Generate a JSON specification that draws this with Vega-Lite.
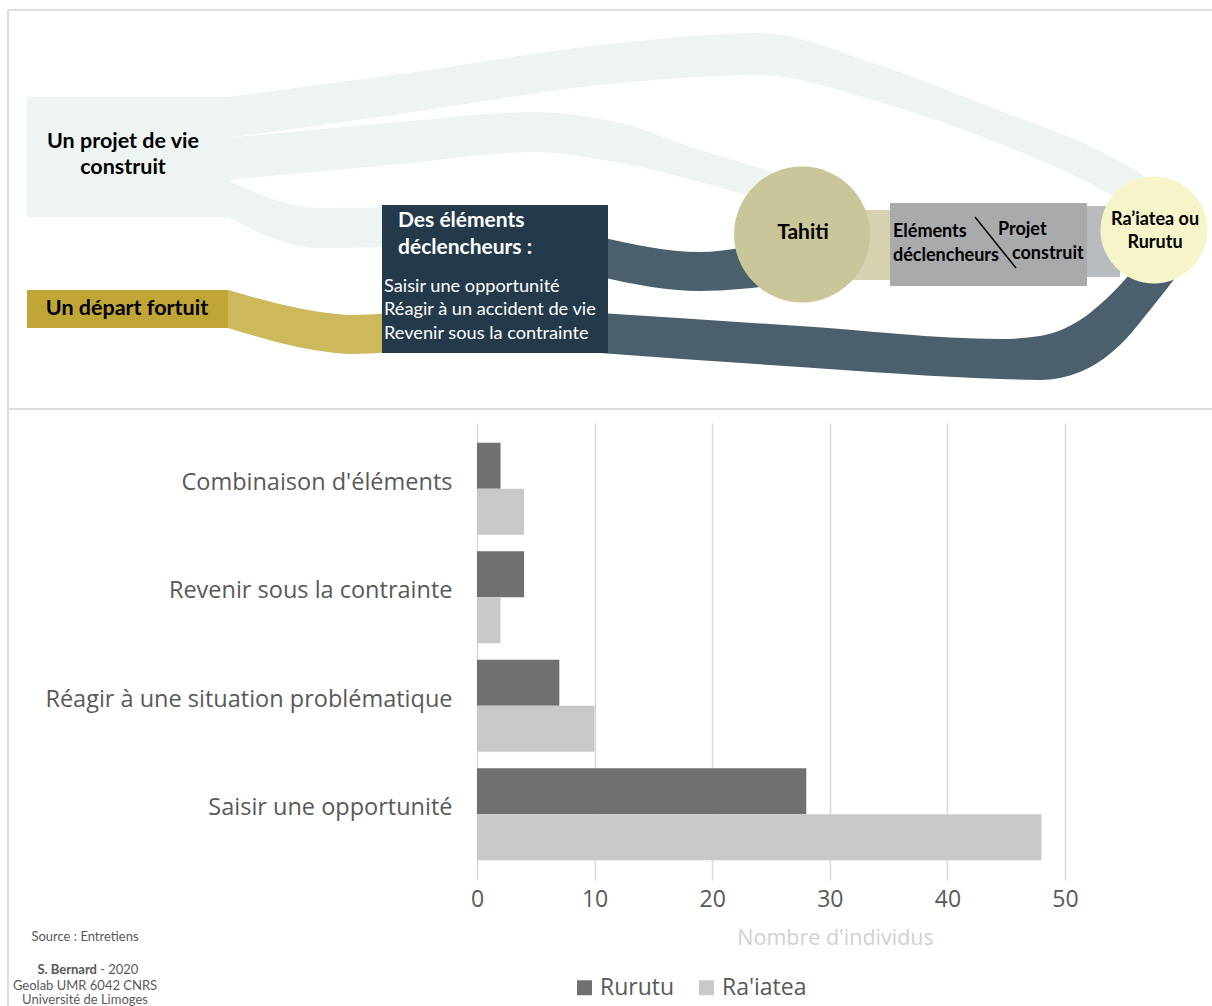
{
  "$schema": "https://vega.github.io/schema/vega-lite/v6.json",
  "background": "white",
  "padding": {"left": 7, "top": 0, "right": 0, "bottom": 0},
  "bounds": "flush",
  "spacing": 13,
  "config": {"view": {"stroke": null}},
  "resolve": {"scale": {"x": "independent", "y": "independent", "color": "independent", "fill": "independent"}},
  "vconcat": [
    {
      "width": 735,
      "height": 410,
      "encoding": {
        "x": {"field": "x", "type": "quantitative", "scale": {"domain": [477, 1212], "nice": false, "zero": false}, "axis": null},
        "y": {"field": "y", "type": "quantitative", "stack": null, "scale": {"domain": [0, 410], "nice": false, "zero": false, "reverse": true}, "axis": null}
      },
      "layer": [
        {
          "data": {"values": [
            {"trait": "haut", "x": 8, "x2": 1212, "y": 10, "y2": 10},
            {"trait": "separation", "x": 8, "x2": 1212, "y": 409, "y2": 409},
            {"trait": "gauche", "x": 8, "x2": 8, "y": 10, "y2": 1006}
          ]},
          "mark": {"type": "rule", "color": "#dcdcdc", "strokeWidth": 2},
          "encoding": {"x2": {"field": "x2"}, "y2": {"field": "y2"}}
        },
        {
          "data": {"values": [
            {"flux": "projet-raiatea", "source": "projet", "x": 228, "y": 97, "y2": 138},
            {"flux": "projet-raiatea", "source": "projet", "x": 400, "y": 74, "y2": 114},
            {"flux": "projet-raiatea", "source": "projet", "x": 620, "y": 43, "y2": 83},
            {"flux": "projet-raiatea", "source": "projet", "x": 758, "y": 33, "y2": 75},
            {"flux": "projet-raiatea", "source": "projet", "x": 873, "y": 63, "y2": 100},
            {"flux": "projet-raiatea", "source": "projet", "x": 990, "y": 107, "y2": 140},
            {"flux": "projet-raiatea", "source": "projet", "x": 1108, "y": 155, "y2": 193},
            {"flux": "projet-raiatea", "source": "projet", "x": 1160, "y": 185, "y2": 225},
            {"flux": "projet-tahiti", "source": "projet", "x": 228, "y": 138, "y2": 180},
            {"flux": "projet-tahiti", "source": "projet", "x": 400, "y": 122, "y2": 164},
            {"flux": "projet-tahiti", "source": "projet", "x": 534, "y": 112, "y2": 152},
            {"flux": "projet-tahiti", "source": "projet", "x": 620, "y": 123, "y2": 163},
            {"flux": "projet-tahiti", "source": "projet", "x": 700, "y": 150, "y2": 182},
            {"flux": "projet-tahiti", "source": "projet", "x": 760, "y": 168, "y2": 200},
            {"flux": "projet-tahiti", "source": "projet", "x": 800, "y": 180, "y2": 215},
            {"flux": "projet-declencheurs", "source": "projet", "x": 228, "y": 180, "y2": 217},
            {"flux": "projet-declencheurs", "source": "projet", "x": 300, "y": 206, "y2": 246},
            {"flux": "projet-declencheurs", "source": "projet", "x": 320, "y": 208, "y2": 248},
            {"flux": "projet-declencheurs", "source": "projet", "x": 390, "y": 207, "y2": 247},
            {"flux": "fortuit-declencheurs", "source": "fortuit", "x": 228, "y": 290, "y2": 328},
            {"flux": "fortuit-declencheurs", "source": "fortuit", "x": 328, "y": 313, "y2": 352},
            {"flux": "fortuit-declencheurs", "source": "fortuit", "x": 350, "y": 315, "y2": 354},
            {"flux": "fortuit-declencheurs", "source": "fortuit", "x": 390, "y": 313, "y2": 352},
            {"flux": "declencheurs-tahiti", "source": "declencheurs", "x": 600, "y": 237, "y2": 277},
            {"flux": "declencheurs-tahiti", "source": "declencheurs", "x": 700, "y": 252, "y2": 291},
            {"flux": "declencheurs-tahiti", "source": "declencheurs", "x": 740, "y": 248, "y2": 289},
            {"flux": "declencheurs-tahiti", "source": "declencheurs", "x": 775, "y": 242, "y2": 285},
            {"flux": "declencheurs-raiatea", "source": "declencheurs", "x": 600, "y": 313, "y2": 353},
            {"flux": "declencheurs-raiatea", "source": "declencheurs", "x": 800, "y": 326, "y2": 367},
            {"flux": "declencheurs-raiatea", "source": "declencheurs", "x": 1000, "y": 339, "y2": 379},
            {"flux": "declencheurs-raiatea", "source": "declencheurs", "x": 1040, "y": 336, "y2": 380},
            {"flux": "declencheurs-raiatea", "source": "declencheurs", "x": 1080, "y": 320, "y2": 372},
            {"flux": "declencheurs-raiatea", "source": "declencheurs", "x": 1120, "y": 285, "y2": 345},
            {"flux": "declencheurs-raiatea", "source": "declencheurs", "x": 1150, "y": 250, "y2": 310},
            {"flux": "declencheurs-raiatea", "source": "declencheurs", "x": 1185, "y": 215, "y2": 265},
            {"flux": "tahiti-etape", "source": "tahiti", "x": 850, "y": 210, "y2": 280},
            {"flux": "tahiti-etape", "source": "tahiti", "x": 895, "y": 210, "y2": 280},
            {"flux": "etape-raiatea", "source": "etape", "x": 1085, "y": 206, "y2": 277},
            {"flux": "etape-raiatea", "source": "etape", "x": 1120, "y": 206, "y2": 277}
          ]},
          "mark": {"type": "area", "interpolate": "monotone", "opacity": 1},
          "encoding": {
            "y2": {"field": "y2"},
            "detail": {"field": "flux"},
            "color": {"field": "source", "type": "nominal", "legend": null,
              "scale": {"domain": ["projet", "fortuit", "declencheurs", "tahiti", "etape"],
                        "range": ["#eef4f1", "#cbb95c", "#4b5f6c", "#d5d2b0", "#b9bcbe"]}}
          }
        },
        {
          "data": {"values": [
            {"noeud": "projet", "x": 27, "x2": 228, "y": 97, "y2": 217},
            {"noeud": "fortuit", "x": 27, "x2": 228, "y": 290, "y2": 328},
            {"noeud": "declencheurs", "x": 382, "x2": 608, "y": 205, "y2": 353},
            {"noeud": "etape", "x": 890, "x2": 1087, "y": 203, "y2": 286}
          ]},
          "mark": {"type": "rect"},
          "encoding": {
            "x2": {"field": "x2"}, "y2": {"field": "y2"},
            "fill": {"field": "noeud", "type": "nominal", "legend": null,
              "scale": {"domain": ["projet", "fortuit", "declencheurs", "etape", "tahiti", "raiatea"],
                        "range": ["#eef4f1", "#c0a637", "#243a4b", "#a9aaac", "#c9c699", "#f6f4c9"]}}
          }
        },
        {
          "data": {"values": [{"noeud": "tahiti", "x": 802, "y": 234.5}]},
          "mark": {"type": "point", "shape": "circle", "filled": true, "opacity": 1, "size": 18496},
          "encoding": {
            "fill": {"field": "noeud", "type": "nominal", "legend": null,
              "scale": {"domain": ["projet", "fortuit", "declencheurs", "etape", "tahiti", "raiatea"],
                        "range": ["#eef4f1", "#c0a637", "#243a4b", "#a9aaac", "#c9c699", "#f6f4c9"]}}
          }
        },
        {
          "data": {"values": [{"noeud": "raiatea", "x": 1154, "y": 230}]},
          "mark": {"type": "point", "shape": "circle", "filled": true, "opacity": 1, "size": 11449},
          "encoding": {
            "fill": {"field": "noeud", "type": "nominal", "legend": null,
              "scale": {"domain": ["projet", "fortuit", "declencheurs", "etape", "tahiti", "raiatea"],
                        "range": ["#eef4f1", "#c0a637", "#243a4b", "#a9aaac", "#c9c699", "#f6f4c9"]}}
          }
        },
        {
          "data": {"values": [{"trait": "diagonale", "x": 975, "x2": 1016, "y": 217, "y2": 268}]},
          "mark": {"type": "rule", "color": "#000000", "strokeWidth": 1.5},
          "encoding": {"x2": {"field": "x2"}, "y2": {"field": "y2"}}
        },
        {
          "data": {"values": [
            {"texte": "Un projet de vie", "x": 123, "y": 142},
            {"texte": "construit", "x": 123, "y": 168},
            {"texte": "Un départ fortuit", "x": 127, "y": 309}
          ]},
          "mark": {"type": "text", "font": "Lato", "fontSize": 21.5, "fontWeight": "bold", "color": "#000000", "align": "center", "baseline": "middle"},
          "encoding": {"text": {"field": "texte"}}
        },
        {
          "data": {"values": [{"texte": "Tahiti", "x": 803, "y": 233}]},
          "mark": {"type": "text", "font": "Lato", "fontSize": 21, "fontWeight": "bold", "color": "#000000", "align": "center", "baseline": "middle"},
          "encoding": {"text": {"field": "texte"}}
        },
        {
          "data": {"values": [
            {"texte": "Des éléments", "x": 398, "y": 221},
            {"texte": "déclencheurs :", "x": 398, "y": 248}
          ]},
          "mark": {"type": "text", "font": "Lato", "fontSize": 21, "fontWeight": "bold", "color": "#ffffff", "align": "left", "baseline": "middle"},
          "encoding": {"text": {"field": "texte"}}
        },
        {
          "data": {"values": [
            {"texte": "Saisir une opportunité", "x": 384, "y": 287},
            {"texte": "Réagir à un accident de vie", "x": 384, "y": 310},
            {"texte": "Revenir sous la contrainte", "x": 384, "y": 334}
          ]},
          "mark": {"type": "text", "font": "Lato", "fontSize": 18.2, "color": "#ffffff", "align": "left", "baseline": "middle"},
          "encoding": {"text": {"field": "texte"}}
        },
        {
          "data": {"values": [
            {"texte": "Eléments", "x": 893, "y": 232},
            {"texte": "déclencheurs", "x": 893, "y": 256},
            {"texte": "Projet", "x": 998, "y": 230},
            {"texte": "construit", "x": 1012, "y": 254}
          ]},
          "mark": {"type": "text", "font": "Lato", "fontSize": 18, "fontWeight": "bold", "color": "#000000", "align": "left", "baseline": "middle"},
          "encoding": {"text": {"field": "texte"}}
        },
        {
          "data": {"values": [
            {"texte": "Ra’iatea ou", "x": 1155, "y": 220},
            {"texte": "Rurutu", "x": 1155, "y": 243}
          ]},
          "mark": {"type": "text", "font": "Lato", "fontSize": 18, "fontWeight": "bold", "color": "#000000", "align": "center", "baseline": "middle"},
          "encoding": {"text": {"field": "texte"}}
        },
        {
          "data": {"values": [
            {"texte": "Source : Entretiens", "x": 85, "y": 937},
            {"texte": "Geolab UMR 6042 CNRS", "x": 85, "y": 986},
            {"texte": "Université de Limoges", "x": 85, "y": 1000}
          ]},
          "mark": {"type": "text", "font": "Lato", "fontSize": 13, "color": "#595959", "align": "center", "baseline": "middle"},
          "encoding": {"text": {"field": "texte"}}
        },
        {
          "data": {"values": [{"texte": "S. Bernard", "x": 97, "y": 970}]},
          "mark": {"type": "text", "font": "Lato", "fontSize": 13, "fontWeight": "bold", "color": "#595959", "align": "right", "baseline": "middle"},
          "encoding": {"text": {"field": "texte"}}
        },
        {
          "data": {"values": [{"texte": "- 2020", "x": 100, "y": 970}]},
          "mark": {"type": "text", "font": "Lato", "fontSize": 13, "color": "#595959", "align": "left", "baseline": "middle"},
          "encoding": {"text": {"field": "texte"}}
        }
      ]
    },
    {
      "width": 588,
      "height": 457,
      "data": {"values": [
        {"categorie": "Combinaison d'éléments", "ile": "Rurutu", "individus": 2},
        {"categorie": "Combinaison d'éléments", "ile": "Ra'iatea", "individus": 4},
        {"categorie": "Revenir sous la contrainte", "ile": "Rurutu", "individus": 4},
        {"categorie": "Revenir sous la contrainte", "ile": "Ra'iatea", "individus": 2},
        {"categorie": "Réagir à une situation problématique", "ile": "Rurutu", "individus": 7},
        {"categorie": "Réagir à une situation problématique", "ile": "Ra'iatea", "individus": 10},
        {"categorie": "Saisir une opportunité", "ile": "Rurutu", "individus": 28},
        {"categorie": "Saisir une opportunité", "ile": "Ra'iatea", "individus": 48}
      ]},
      "mark": {"type": "bar"},
      "encoding": {
        "y": {"field": "categorie", "type": "nominal",
          "sort": ["Combinaison d'éléments", "Revenir sous la contrainte", "Réagir à une situation problématique", "Saisir une opportunité"],
          "scale": {"paddingInner": 0.152, "paddingOuter": 0.182},
          "axis": {"title": null, "labelFont": "Open Sans", "labelFontSize": 23.5, "labelColor": "#595959", "ticks": false, "domain": false, "labelPadding": 25, "labelLimit": 0, "labelOffset": -6}},
        "x": {"field": "individus", "type": "quantitative",
          "scale": {"domain": [0, 50], "nice": false},
          "axis": {"title": "Nombre d'individus", "titleFont": "Open Sans", "titleFontSize": 21.5, "titleFontWeight": "normal", "titleColor": "#d0d0d0", "titleX": 358, "titlePadding": 16,
                   "values": [0, 10, 20, 30, 40, 50], "labelFont": "Open Sans", "labelFontSize": 23, "labelColor": "#595959", "labelPadding": 8, "labelFlush": false,
                   "grid": true, "gridColor": "#d9d9d9", "gridWidth": 1.5, "domain": false, "ticks": false}},
        "yOffset": {"field": "ile", "type": "nominal", "sort": ["Rurutu", "Ra'iatea"]},
        "color": {"field": "ile", "type": "nominal",
          "scale": {"domain": ["Rurutu", "Ra'iatea"], "range": ["#707070", "#c7c8ca"]},
          "legend": {"orient": "none", "legendX": 96, "legendY": 553, "direction": "horizontal", "title": null,
                     "symbolType": "square", "symbolSize": 225, "symbolStrokeWidth": 0, "labelFont": "Open Sans", "labelFontSize": 23,
                     "labelColor": "#595959", "columnPadding": 20, "labelOffset": 4}}
      }
    }
  ]
}
